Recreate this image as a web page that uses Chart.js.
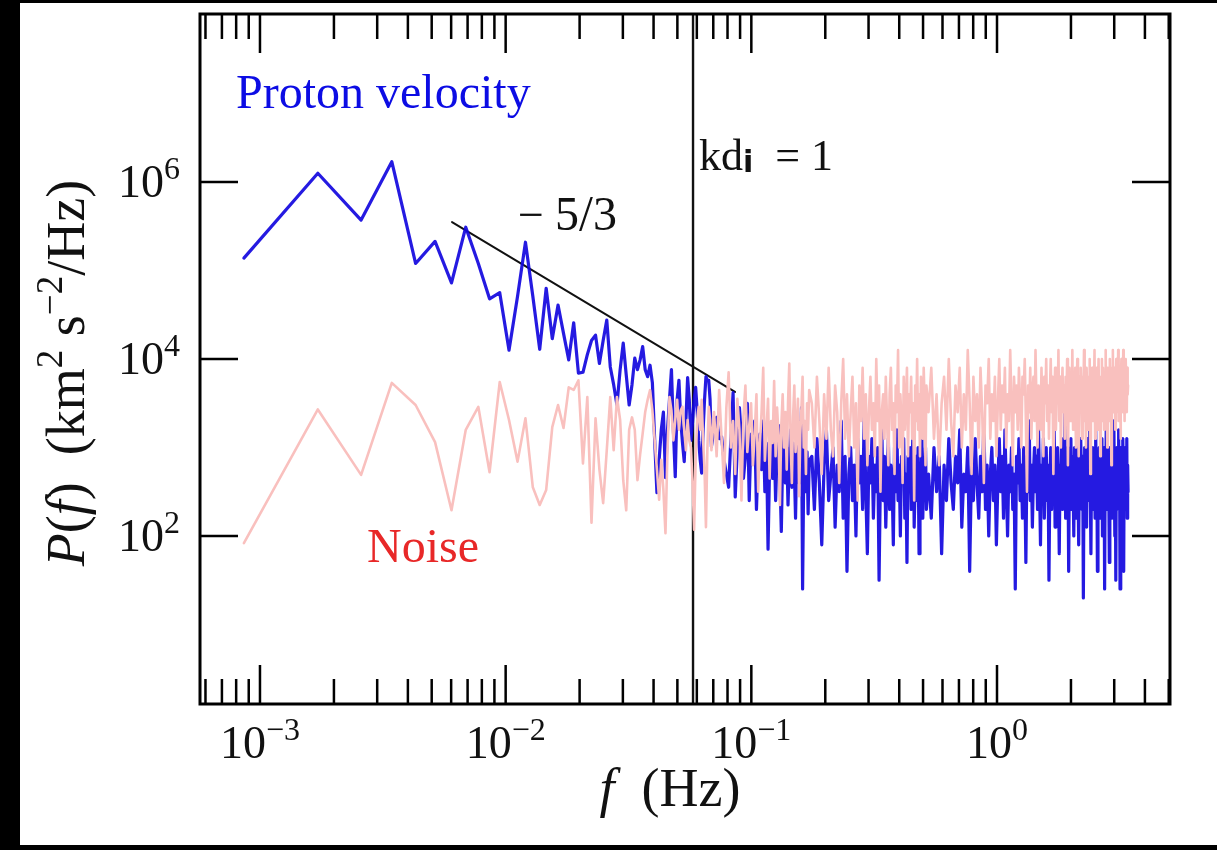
<!DOCTYPE html>
<html>
<head>
<meta charset="utf-8">
<title>Proton velocity spectrum</title>
<script src="https://cdn.jsdelivr.net/npm/chart.js@4.4.1/dist/chart.umd.min.js"></script>
<style>
  html, body { margin: 0; padding: 0; background: #000; width: 1217px; height: 850px; overflow: hidden; }
  #wrap { position: absolute; left: 20px; top: 3px; width: 1197px; height: 842px; background: #fff; }
</style>
</head>
<body>
<div id="wrap"><canvas id="spectrum" width="1197" height="842"></canvas></div>
<script>
// frequency resolution of the spectrum (Hz per bin)
var binWidth = 8.6e-4;

// log10 of P(f); each block starts at a bin number and advances by a fixed bin step
var protonLow = [   // bins 1..80, step 1
    5.14, 6.10, 5.57, 6.23, 5.08, 5.33, 4.86, 5.49, 5.08, 4.68,
    4.75, 4.10, 4.71, 5.32, 4.71, 4.11, 4.80, 4.23, 4.61, 4.29,
    3.99, 4.41, 3.84, 3.85, 4.05, 4.21, 4.27, 3.95, 4.21, 4.44,
    3.91, 3.71, 3.48, 3.88, 4.18, 3.82, 3.48, 3.71, 4.01, 3.88,
    3.99, 4.14, 3.88, 3.80, 3.93, 3.73, 3.08, 2.49, 2.86, 3.20,
    3.40, 2.66, 3.20, 3.54, 3.88, 3.20, 2.67, 3.54, 3.76, 3.31,
    3.05, 2.84, 3.31, 3.79, 3.54, 3.08, 3.28, 3.54, 3.68, 3.42,
    3.08, 2.86, 2.71, 3.20, 3.54, 3.80, 3.76, 3.76, 3.54, 3.01
];
var protonMid = [   // bins 82..200, step 2
    3.20, 3.34, 3.10, 3.12, 2.86, 2.70, 2.55, 3.10, 3.62, 2.44,
    3.00, 3.45, 3.10, 2.65, 2.90, 3.50, 2.40, 3.15, 2.95, 3.30,
    2.30, 2.90, 3.15, 2.75, 3.30, 2.50, 3.05, 1.85, 2.80, 3.20,
    2.65, 3.10, 2.40, 2.95, 3.25, 2.70, 2.05, 2.90, 3.15, 2.60,
    3.00, 2.35, 2.85, 3.20, 2.55, 3.05, 2.75, 2.20, 2.95, 3.30,
    2.60, 2.90, 3.45, 1.40, 2.70, 3.10, 2.50, 2.95, 2.25, 2.85
];
var protonHigh = [  // bins 205..600, step 5
    2.9, 2.3, 3.1, 2.6, 1.9, 2.8, 3.2, 2.4, 2.7, 3.0,
    2.1, 2.8, 2.5, 3.3, 2.2, 2.9, 1.6, 2.7, 3.0, 2.4,
    2.8, 2.0, 3.1, 2.6, 2.9, 2.3, 3.4, 2.5, 1.8, 2.9,
    2.6, 3.1, 2.2, 2.8, 2.5, 3.0, 1.5, 2.7, 3.2, 2.4,
    2.9, 2.1, 2.7, 3.1, 2.3, 2.8, 2.6, 1.9, 3.0, 2.5,
    3.2, 2.4, 2.8, 2.0, 2.9, 2.6, 3.1, 2.2, 2.7, 1.7,
    2.9, 2.5, 3.0, 2.3, 2.8, 3.3, 2.1, 2.6, 2.9, 2.4,
    3.0, 1.8, 2.7, 2.5, 3.1, 2.2, 2.8, 2.6, 3.0, 2.3
];
var protonTail = [  // bins 612..3972, step 16
    2.7, 2.2, 3.0, 2.5, 2.9, 1.8, 2.8, 2.4, 3.1, 2.6,
    2.3, 2.9, 2.6, 3.2, 2.1, 2.7, 2.5, 3.0, 1.6, 2.8,
    2.4, 3.1, 2.6, 2.2, 2.9, 2.5, 3.3, 2.3, 2.8, 2.0,
    2.7, 3.0, 2.4, 2.8, 1.9, 2.6, 3.1, 2.5, 2.9, 2.2,
    3.2, 2.6, 2.0, 2.8, 2.5, 3.0, 2.3, 2.7, 1.4, 2.9,
    2.6, 3.1, 2.4, 2.8, 2.2, 3.0, 2.7, 1.7, 2.9, 2.5,
    3.3, 2.4, 2.8, 2.1, 2.7, 3.0, 2.5, 2.9, 2.3, 3.2,
    2.6, 1.9, 2.8, 2.5, 3.1, 2.2, 2.7, 3.0, 2.4, 2.8,
    1.5, 2.6, 3.0, 2.3, 2.9, 2.5, 3.2, 2.1, 2.7, 2.4,
    3.0, 2.6, 1.8, 2.8, 2.5, 3.1, 2.3, 2.9, 2.6, 3.4,
    2.2, 2.7, 2.4, 3.0, 1.6, 2.8, 2.5, 3.1, 2.3, 2.9,
    2.6, 2.0, 3.0, 2.5, 2.8, 2.2, 3.2, 2.6, 1.9, 2.9,
    2.4, 3.1, 2.7, 2.3, 2.9, 1.3, 2.7, 3.0, 2.5, 2.8,
    2.1, 3.1, 2.6, 2.9, 2.4, 3.3, 2.5, 1.8, 2.8, 2.6,
    3.0, 2.3, 2.7, 2.9, 2.2, 3.2, 2.5, 2.8, 1.6, 2.7,
    2.4, 3.0, 2.6, 2.2, 2.9, 2.5, 3.1, 2.0, 2.8, 2.6,
    3.0, 1.4, 2.7, 2.4, 3.2, 2.6, 2.9, 2.3, 2.8, 2.5,
    1.7, 3.0, 2.6, 2.8, 2.2, 3.1, 2.5, 2.9, 2.4, 3.3,
    2.6, 2.0, 2.8, 1.5, 2.7, 3.0, 2.4, 2.9, 2.5, 3.2,
    2.3, 2.8, 1.4, 2.6, 3.0, 2.5, 2.9, 2.2, 3.1, 2.7,
    1.6, 2.8, 2.5, 3.0, 2.4, 2.9, 2.6, 3.1, 2.2, 2.8,
    2.5
];

var noiseLow = [
    1.92, 3.43, 2.69, 3.73, 3.48, 3.06, 2.29, 3.20, 3.46, 2.72,
    3.74, 3.31, 2.84, 3.33, 2.55, 2.35, 2.52, 3.23, 3.48, 3.22,
    3.68, 3.65, 3.76, 2.82, 3.57, 2.15, 3.33, 2.75, 2.37, 2.97,
    3.57, 2.97, 3.57, 3.31, 2.63, 2.29, 3.20, 3.34, 3.20, 2.63,
    2.92, 3.16, 3.40, 3.54, 3.65, 3.42, 3.08, 2.75, 2.41, 2.86,
    2.52, 2.03, 2.97, 3.57, 3.42, 3.08, 3.31, 3.54, 3.20, 3.42,
    3.46, 3.20, 2.97, 3.31, 3.08, 3.00, 2.63, 2.07, 2.86, 3.31,
    3.46, 3.20, 3.54, 3.08, 2.75, 2.10, 2.97, 3.46, 3.31, 2.97
];
var noiseMid = [
    3.40, 2.90, 3.65, 3.10, 2.60, 3.45, 3.85, 3.00, 3.30, 2.70,
    3.55, 3.20, 2.40, 3.35, 3.70, 2.95, 3.25, 3.50, 2.80, 3.15,
    3.60, 2.50, 3.05, 3.40, 3.90, 2.85, 3.20, 3.55, 2.65, 3.30,
    3.05, 3.75, 2.90, 3.45, 3.15, 2.35, 3.25, 3.60, 3.00, 3.40,
    2.75, 3.50, 3.95, 3.10, 2.60, 3.35, 3.70, 2.95, 3.25, 3.55,
    2.45, 3.15, 3.45, 3.80, 3.00, 3.30, 2.70, 3.50, 3.20, 3.65
];
var noiseHigh = [
    3.5, 3.0, 3.8, 3.3, 2.7, 3.6, 3.1, 3.9, 3.2, 2.9,
    3.7, 3.4, 2.6, 3.5, 4.0, 3.1, 3.6, 2.9, 3.4, 3.8,
    3.0, 3.5, 2.4, 3.7, 3.3, 3.9, 3.1, 3.6, 2.8, 3.4,
    3.8, 3.2, 3.5, 2.9, 4.0, 3.3, 3.7, 2.5, 3.4, 3.6,
    3.1, 3.8, 3.3, 2.8, 3.6, 3.9, 3.2, 3.5, 2.7, 3.7,
    3.4, 4.1, 3.0, 3.6, 3.3, 2.6, 3.8, 3.2, 3.5, 3.9,
    2.9, 3.6, 3.4, 3.8, 3.1, 3.5, 2.4, 3.7, 3.3, 4.0,
    3.2, 3.6, 2.9, 3.8, 3.4, 3.1, 3.9, 3.5, 2.8, 3.7
];
var noiseTail = [
    3.4, 3.9, 3.1, 3.6, 2.8, 3.5, 3.8, 3.2, 4.0, 3.3,
    2.9, 3.7, 3.4, 3.9, 3.0, 3.6, 3.2, 4.1, 3.5, 2.7,
    3.8, 3.3, 3.6, 3.0, 3.9, 3.4, 2.6, 3.7, 3.5, 4.0,
    3.1, 3.6, 3.3, 3.8, 2.9, 3.5, 4.0, 3.2, 3.7, 3.4,
    3.9, 3.0, 3.6, 3.3, 4.1, 3.5, 2.8, 3.8, 3.4, 3.7,
    3.2, 3.9, 3.5, 3.0, 3.8, 3.6, 4.0, 3.3, 2.5, 3.7,
    3.4, 3.9, 3.1, 3.6, 3.8, 3.3, 4.1, 3.5, 3.0, 3.7,
    3.6, 3.2, 3.9, 3.4, 2.9, 3.8, 3.5, 4.0, 3.3, 3.7,
    3.1, 3.6, 4.0, 3.4, 3.8, 2.7, 3.5, 3.9, 3.2, 3.7,
    3.5, 4.1, 3.3, 3.8, 3.0, 3.6, 3.9, 3.4, 3.7, 3.1,
    3.8, 3.5, 4.0, 2.8, 3.6, 3.9, 3.3, 3.7, 3.5, 4.1,
    3.2, 3.7, 3.4, 3.9, 3.0, 3.6, 4.0, 3.5, 2.9, 3.8,
    3.4, 3.9, 3.6, 3.1, 3.8, 3.5, 4.1, 3.3, 3.7, 3.0,
    3.9, 3.6, 3.2, 3.8, 3.5, 4.0, 2.7, 3.7, 3.4, 3.9,
    3.3, 3.8, 3.6, 4.1, 3.1, 3.7, 3.5, 3.9, 3.2, 3.6,
    4.0, 3.4, 3.8, 2.9, 3.7, 3.5, 4.0, 3.3, 3.9, 3.6,
    3.2, 3.8, 3.5, 4.1, 3.4, 3.7, 3.0, 3.9, 3.6, 3.8,
    3.3, 4.0, 3.5, 3.7, 2.8, 3.9, 3.6, 4.1, 3.4, 3.8,
    3.5, 3.9, 3.2, 3.7, 4.0, 3.4, 3.8, 3.6, 4.1, 3.3,
    3.8, 3.5, 3.9, 3.1, 3.7, 4.0, 3.6, 3.8, 3.4, 4.1,
    3.6, 3.9, 3.3, 3.8, 3.5, 4.0, 3.7, 3.4, 3.9, 3.6,
    3.7
];

// -5/3 reference slope and the kd_i = 1 frequency
var fitStart = 6.05e-3, fitEnd = 8.58e-2, fitLevel = 3.53e5, fitSlope = -5 / 3;
var kdiFreq = 0.0579;

// axis ranges and labelled decades
var fMin = 5.70e-4, fMax = 5.06;
var pMin = 1.26, pMax = 7.94e7;
var xTickExponents = [-3, -2, -1, 0];
var yTickExponents = [2, 4, 6];

function spectrum(blocks) {
    var pts = [];
    blocks.forEach(function (b) {
        var first = b[0], step = b[1], logP = b[2];
        logP.forEach(function (lp, i) {
            pts.push({ x: (first + i * step) * binWidth, y: Math.pow(10, lp) });
        });
    });
    return pts;
}

var protonPoints = spectrum([[1, 1, protonLow], [82, 2, protonMid], [205, 5, protonHigh], [612, 16, protonTail]]);
var noisePoints = spectrum([[1, 1, noiseLow], [82, 2, noiseMid], [205, 5, noiseHigh], [612, 16, noiseTail]]);
var fitPoints = [fitStart, fitEnd].map(function (f) {
    return { x: f, y: fitLevel * Math.pow(f / fitStart, fitSlope) };
});
var kdiPoints = [{ x: kdiFreq, y: pMin }, { x: kdiFreq, y: pMax }];

var serif = '"Liberation Serif", "Times New Roman", serif';

// draw a row of text pieces: [text, font, rise]
function drawRuns(ctx, runs, x, y, align) {
    var total = 0;
    runs.forEach(function (r) { ctx.font = r[1]; total += ctx.measureText(r[0]).width; });
    var cx = align === 'center' ? x - total / 2 : align === 'right' ? x - total : x;
    ctx.textAlign = 'left';
    ctx.textBaseline = 'alphabetic';
    runs.forEach(function (r) {
        ctx.font = r[1];
        ctx.fillText(r[0], cx, y - (r[2] || 0));
        cx += ctx.measureText(r[0]).width;
    });
}

function powerLabel(e) {
    var exp = e < 0 ? '\u2212' + (-e) : String(e);
    return [['10', '46px ' + serif, 0], [exp, '32px ' + serif, 18]];
}

var axesPlugin = {
    id: 'axesFrame',
    afterDatasetsDraw: function (chart) {
        var ctx = chart.ctx, a = chart.chartArea;
        var xs = chart.scales.x, ys = chart.scales.y;
        ctx.save();
        ctx.strokeStyle = '#000';
        ctx.lineWidth = 2.5;
        ctx.beginPath();
        // inward ticks on all four sides
        for (var d = -4; d <= 0; d++) {
            for (var m = 1; m <= 9; m++) {
                var v = m * Math.pow(10, d);
                if (v < fMin || v > fMax) continue;
                var px = xs.getPixelForValue(v);
                var len = m === 1 ? 39 : 25;
                ctx.moveTo(px, a.bottom); ctx.lineTo(px, a.bottom - len);
                ctx.moveTo(px, a.top); ctx.lineTo(px, a.top + len);
            }
        }
        yTickExponents.forEach(function (e) {
            var py = ys.getPixelForValue(Math.pow(10, e));
            ctx.moveTo(a.left, py); ctx.lineTo(a.left + 38, py);
            ctx.moveTo(a.right, py); ctx.lineTo(a.right - 38, py);
        });
        ctx.stroke();
        ctx.lineWidth = 3;
        ctx.strokeRect(a.left, a.top, a.right - a.left, a.bottom - a.top);

        // tick labels
        ctx.fillStyle = '#111';
        xTickExponents.forEach(function (e) {
            drawRuns(ctx, powerLabel(e), xs.getPixelForValue(Math.pow(10, e)), a.bottom + 54, 'center');
        });
        yTickExponents.forEach(function (e) {
            drawRuns(ctx, powerLabel(e), a.left - 20, ys.getPixelForValue(Math.pow(10, e)) + 15, 'right');
        });

        // axis titles
        var rom = '54px ' + serif, ita = 'italic 54px ' + serif, sup = '37px ' + serif;
        drawRuns(ctx, [['f', ita], ['  (Hz)', rom]], 650, 803, 'center');
        ctx.save();
        ctx.translate(64, 370);
        ctx.rotate(-Math.PI / 2);
        drawRuns(ctx, [['P', ita], ['(', rom], ['f', ita], [')  (km', rom], ['2', sup, 22],
            [' s', rom], ['\u22122', sup, 22], ['/Hz)', rom]], 0, 0, 'center');
        ctx.restore();

        // annotations
        ctx.fillStyle = 'rgb(12, 12, 228)';
        drawRuns(ctx, [['Proton velocity', '48px ' + serif]], 216, 105, 'left');
        ctx.fillStyle = 'rgb(232, 40, 40)';
        drawRuns(ctx, [['Noise', '48px ' + serif]], 347, 559, 'left');
        ctx.fillStyle = '#111';
        drawRuns(ctx, [['\u2212', '46px ' + serif]], 498, 227, 'left');
        drawRuns(ctx, [['5', '48px ' + serif], ['/', '50px ' + serif], ['3', '48px ' + serif]], 535, 227, 'left');
        drawRuns(ctx, [['kd', '44px ' + serif], ['i', 'bold 30px "DejaVu Sans", sans-serif', -2],
            ['  = 1', '44px ' + serif]], 679, 167, 'left');
        ctx.restore();
    }
};

var ctx = document.getElementById('spectrum').getContext('2d');
new Chart(ctx, {
    type: 'line',
    data: {
        datasets: [{
            label: 'Noise',
            data: noisePoints,
            borderColor: 'rgb(249, 192, 190)',
            borderWidth: 2.6
        },
        {
            label: 'Proton velocity',
            data: protonPoints,
            borderColor: 'rgba(18, 6, 222, 0.92)',
            borderWidth: 3.2
        },
        {
            label: '-5/3',
            data: fitPoints,
            borderColor: '#111',
            borderWidth: 2
        },
        {
            label: 'kd_i = 1',
            data: kdiPoints,
            borderColor: '#111',
            borderWidth: 2.4
        }]
    },
    options: {
        responsive: false,
        animation: false,
        layout: { padding: { left: 180, right: 47, top: 11, bottom: 141 } },
        elements: {
            point: { radius: 0 },
            line: { tension: 0, borderJoinStyle: 'round', borderCapStyle: 'round' }
        },
        plugins: {
            legend: { display: false },
            tooltip: { enabled: false }
        },
        scales: {
            x: { type: 'logarithmic', display: false, min: fMin, max: fMax },
            y: { type: 'logarithmic', display: false, min: pMin, max: pMax }
        }
    },
    plugins: [axesPlugin]
});
</script>
</body>
</html>
